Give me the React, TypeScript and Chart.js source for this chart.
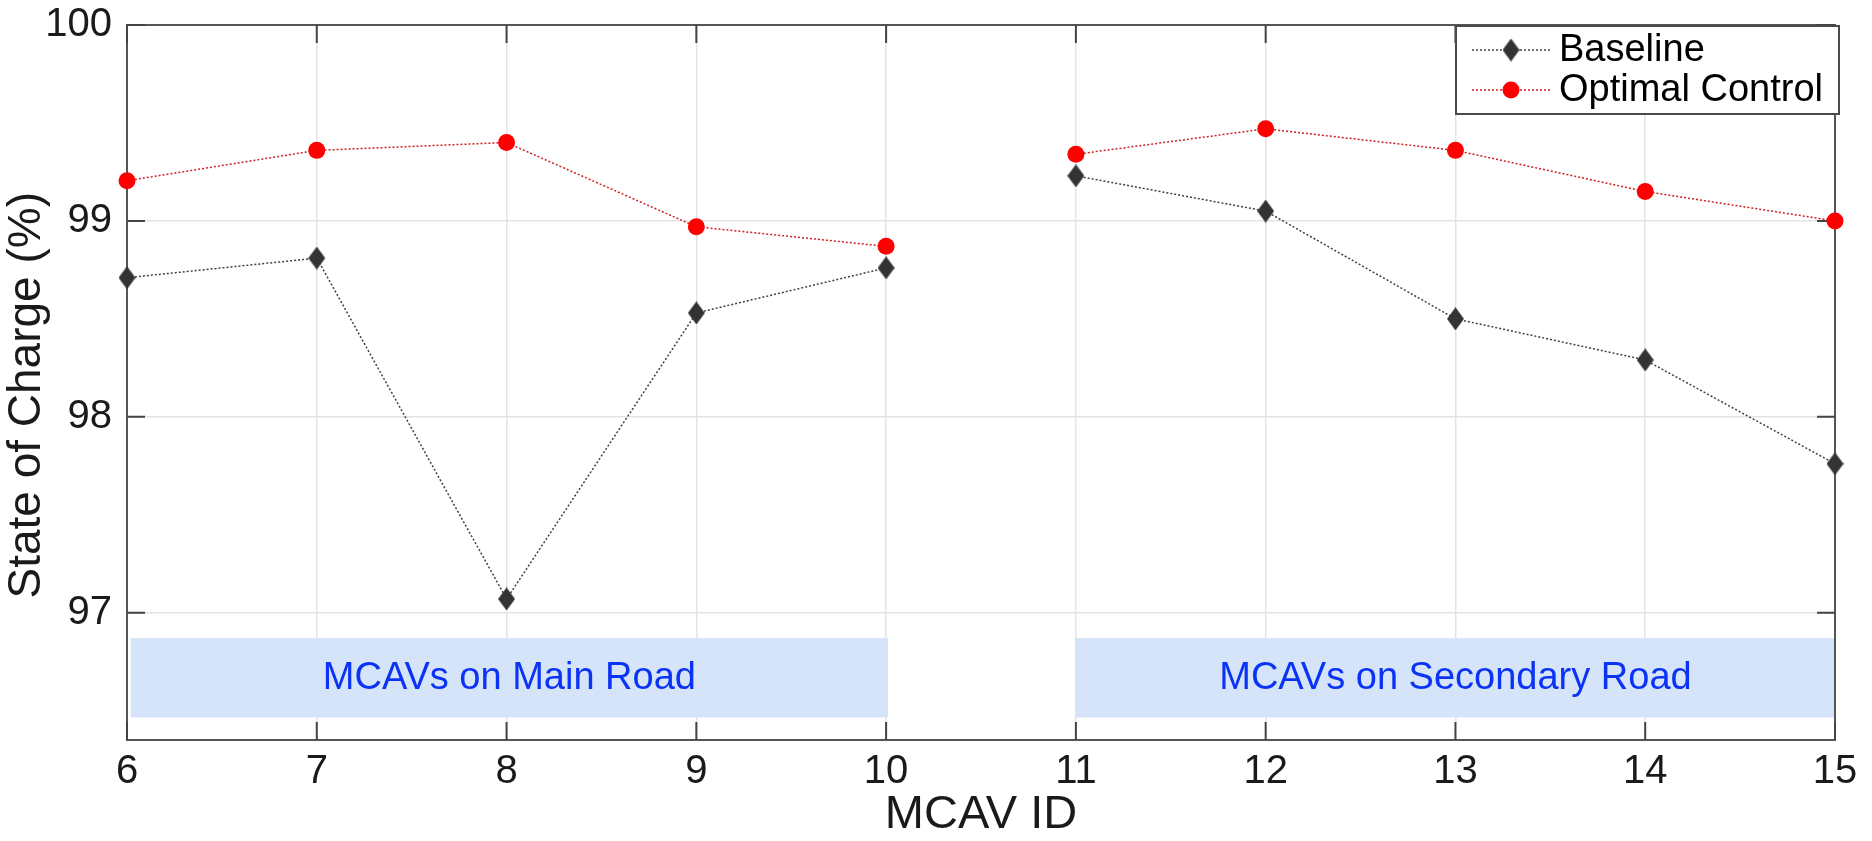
import React, { useEffect, useRef } from 'react';
import { Chart, registerables } from 'chart.js';

Chart.register(...registerables);

// ---- data ----
const mcavIds = [6, 7, 8, 9, 10, 11, 12, 13, 14, 15];
const baselineSoc = [98.71, 98.81, 97.07, 98.53, 98.76, 99.23, 99.05, 98.5, 98.29, 97.76];
const optimalSoc = [99.205, 99.36, 99.4, 98.97, 98.87, 99.34, 99.47, 99.36, 99.15, 99.0];
const yTickValues = [97, 98, 99, 100];
const seriesNames = ['Baseline', 'Optimal Control'];
const regionLabels = ['MCAVs on Main Road', 'MCAVs on Secondary Road'];
const regionStartIds = [6.02, 11];
const regionEndIds = [10.01, 15];
const regionLowSoc = 96.465;
const regionHighSoc = 96.87;
const roadBreakAfterId = 10;

const FONT = '"Liberation Sans", Arial, Helvetica, sans-serif';
const TEXT = '#1a1a1a';
const BASE_COLOR = '#333333';
const BASE_LINE = '#404040';
const OPT_COLOR = '#ff0000';
const OPT_LINE = '#cc2222';

function makeDiamond(w: number, h: number, color: string): HTMLCanvasElement {
  const c = document.createElement('canvas');
  c.width = w;
  c.height = h;
  const g = c.getContext('2d')!;
  g.fillStyle = color;
  g.beginPath();
  g.moveTo(w / 2, 0);
  g.lineTo(w, h / 2);
  g.lineTo(w / 2, h);
  g.lineTo(0, h / 2);
  g.closePath();
  g.fill();
  return c;
}

export default function App() {
  const ref = useRef<HTMLCanvasElement | null>(null);

  useEffect(() => {
    if (!ref.current) return;
    const diamond = makeDiamond(17, 23, BASE_COLOR);

    const hideBreak = (color: string) => (ctx: any) =>
      ctx.p0.parsed.x === roadBreakAfterId ? 'rgba(0,0,0,0)' : color;

    const framePlugin = {
      id: 'frame',
      beforeDatasetsDraw(chart: any) {
        const { ctx, chartArea: a, scales } = chart;
        const x = scales.x;
        const y = scales.y;
        ctx.save();
        // road regions
        for (let i = 0; i < regionLabels.length; i++) {
          const x0 = x.getPixelForValue(regionStartIds[i]);
          const x1 = x.getPixelForValue(regionEndIds[i]);
          const y0 = y.getPixelForValue(regionHighSoc);
          const y1 = y.getPixelForValue(regionLowSoc);
          ctx.fillStyle = '#d6e4fa';
          ctx.fillRect(x0, y0, x1 - x0, y1 - y0);
          ctx.fillStyle = '#0a33f5';
          ctx.font = `38px ${FONT}`;
          ctx.textAlign = 'center';
          ctx.textBaseline = 'middle';
          ctx.fillText(regionLabels[i], (x0 + x1) / 2, (y0 + y1) / 2 + 1);
        }
        // frame box
        ctx.strokeStyle = '#555555';
        ctx.lineWidth = 2;
        ctx.strokeRect(a.left, a.top, a.right - a.left, a.bottom - a.top);
        // inner tick marks
        ctx.strokeStyle = '#444444';
        ctx.beginPath();
        const tl = 18;
        for (const v of mcavIds) {
          const px = x.getPixelForValue(v);
          ctx.moveTo(px, a.bottom);
          ctx.lineTo(px, a.bottom - tl);
          ctx.moveTo(px, a.top);
          ctx.lineTo(px, a.top + tl);
        }
        for (const v of yTickValues) {
          const py = y.getPixelForValue(v);
          ctx.moveTo(a.left, py);
          ctx.lineTo(a.left + tl, py);
          ctx.moveTo(a.right, py);
          ctx.lineTo(a.right - tl, py);
        }
        ctx.stroke();
        ctx.restore();
      },
      afterDraw(chart: any) {
        const { ctx, chartArea: a } = chart;
        const w = 383;
        const h = 88;
        const right = a.right + 4;
        const top = a.top + 1;
        const left = right - w;
        ctx.save();
        ctx.fillStyle = '#ffffff';
        ctx.fillRect(left, top, w, h);
        ctx.strokeStyle = '#4a4a4a';
        ctx.lineWidth = 2;
        ctx.strokeRect(left, top, w, h);
        const rows = [top + 24, top + 64];
        const lineColors = [BASE_LINE, OPT_LINE];
        for (let i = 0; i < 2; i++) {
          const ry = rows[i];
          ctx.strokeStyle = lineColors[i];
          ctx.lineWidth = 1.5;
          ctx.setLineDash([2, 2]);
          ctx.beginPath();
          ctx.moveTo(left + 16, ry);
          ctx.lineTo(left + 94, ry);
          ctx.stroke();
          ctx.setLineDash([]);
          if (i === 0) {
            ctx.drawImage(diamond, left + 55 - diamond.width / 2, ry - diamond.height / 2);
          } else {
            ctx.fillStyle = OPT_COLOR;
            ctx.beginPath();
            ctx.arc(left + 55, ry, 8.5, 0, Math.PI * 2);
            ctx.fill();
          }
          ctx.fillStyle = '#000000';
          ctx.font = `38px ${FONT}`;
          ctx.textAlign = 'left';
          ctx.textBaseline = 'middle';
          ctx.fillText(seriesNames[i], left + 103, ry + 1);
        }
        ctx.restore();
      },
    };

    const chart = new Chart(ref.current, {
      type: 'line',
      data: {
        datasets: [
          {
            label: seriesNames[1],
            data: mcavIds.map((id, i) => ({ x: id, y: optimalSoc[i] })),
            borderColor: OPT_LINE,
            borderWidth: 1.5,
            borderDash: [2, 2],
            pointStyle: 'circle',
            pointRadius: 8.5,
            pointBackgroundColor: OPT_COLOR,
            pointBorderWidth: 0,
            pointBorderColor: OPT_COLOR,
            segment: { borderColor: hideBreak(OPT_LINE) },
            tension: 0,
            order: 1,
          },
          {
            label: seriesNames[0],
            data: mcavIds.map((id, i) => ({ x: id, y: baselineSoc[i] })),
            borderColor: BASE_LINE,
            borderWidth: 1.5,
            borderDash: [2, 2],
            pointStyle: diamond,
            pointRadius: 10,
            pointBackgroundColor: BASE_COLOR,
            pointBorderWidth: 0,
            segment: { borderColor: hideBreak(BASE_LINE) },
            tension: 0,
            order: 2,
          },
        ],
      },
      options: {
        responsive: false,
        animation: false,
        devicePixelRatio: 1,
        clip: false,
        layout: { padding: { left: 0, top: 25, right: 37, bottom: 0 } },
        plugins: {
          legend: { display: false },
          tooltip: { enabled: false },
        },
        scales: {
          x: {
            type: 'linear',
            min: 6,
            max: 15,
            afterBuildTicks: (s: any) => {
              s.ticks = mcavIds.map((v) => ({ value: v }));
            },
            afterFit: (s: any) => {
              s.height = 101;
              s.paddingLeft = 0;
              s.paddingRight = 0;
            },
            grid: { color: '#e3e3e3', lineWidth: 1.5, drawTicks: false },
            border: { display: false },
            ticks: {
              font: { family: FONT, size: 40 },
              color: TEXT,
              padding: 8,
              maxRotation: 0,
              autoSkip: false,
            },
            title: {
              display: true,
              text: 'MCAV ID',
              font: { family: FONT, size: 47, lineHeight: 1.1 },
              color: TEXT,
              padding: 0,
            },
          },
          y: {
            type: 'linear',
            min: 96.35,
            max: 100,
            afterBuildTicks: (s: any) => {
              s.ticks = yTickValues.map((v) => ({ value: v }));
            },
            afterFit: (s: any) => {
              s.width = 127;
              s.paddingTop = 0;
              s.paddingBottom = 0;
            },
            grid: { color: '#e3e3e3', lineWidth: 1.5, drawTicks: false },
            border: { display: false },
            ticks: {
              font: { family: FONT, size: 40 },
              color: TEXT,
              padding: 15,
            },
            title: {
              display: true,
              text: 'State of Charge (%)  ',
              font: { family: FONT, size: 46, lineHeight: 1.2 },
              color: TEXT,
              padding: 0,
            },
          },
        },
      } as any,
      plugins: [framePlugin],
    });

    return () => chart.destroy();
  }, []);

  return (
    <div style={{ position: 'absolute', left: 0, top: 0, width: 1872, height: 841, background: '#ffffff' }}>
      <canvas ref={ref} width={1872} height={841} style={{ display: 'block' }} />
    </div>
  );
}
